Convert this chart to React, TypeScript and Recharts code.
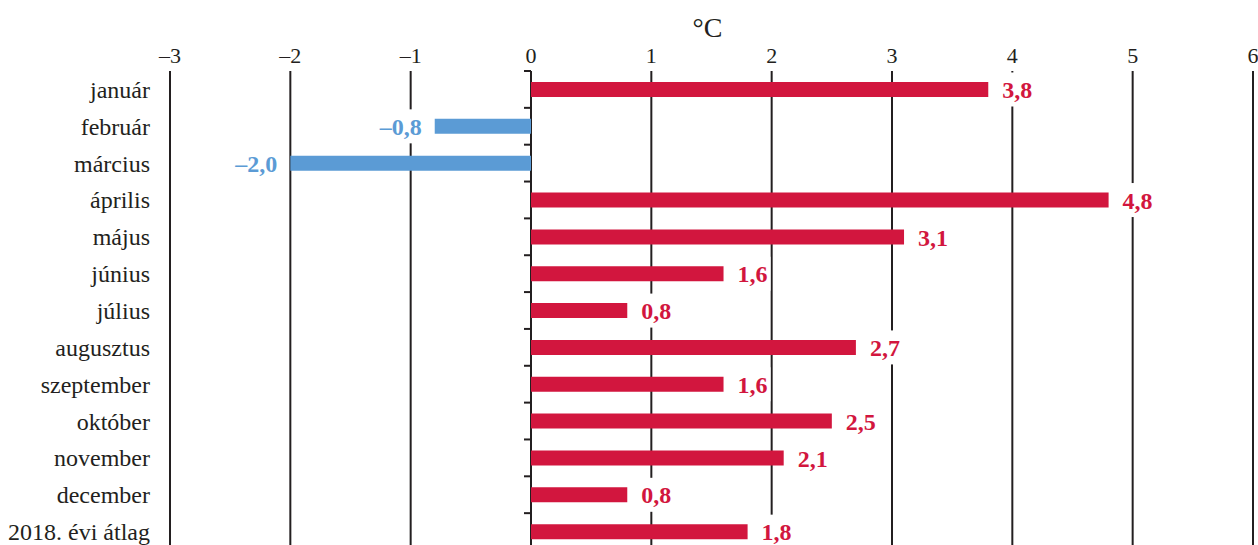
import React from 'react';
import { BarChart, Bar, XAxis, YAxis, CartesianGrid, Cell, LabelList } from 'recharts';

const months = [
  'január',
  'február',
  'március',
  'április',
  'május',
  'június',
  'július',
  'augusztus',
  'szeptember',
  'október',
  'november',
  'december',
  '2018. évi átlag',
];
const anomalies = [3.8, -0.8, -2.0, 4.8, 3.1, 1.6, 0.8, 2.7, 1.6, 2.5, 2.1, 0.8, 1.8];
const xTicks = [-3, -2, -1, 0, 1, 2, 3, 4, 5, 6];

const X_MIN = -3;
const X_MAX = 6;

const data = months.map((month, i) => ({ month, value: anomalies[i] }));

const RED = '#d2163e';
const BLUE = '#5b9bd5';
const INK = '#231f20';
const FONT = '"Liberation Serif", "Times New Roman", serif';
const LABEL_SIZE = 24;

// en dash for minus, comma as decimal mark
const fmt = (v: number) => (v < 0 ? '–' : '') + Math.abs(v).toFixed(1).replace('.', ',');
const fmtTick = (v: number) => (v < 0 ? '–' : '') + Math.abs(v);

const textWidth = (s: string) =>
  s.split('').reduce((w, ch) => w + (ch === ',' ? 0.25 : 0.5) * LABEL_SIZE, 0);

function ValueLabel(props: any) {
  const { x, y, width, height, value } = props;
  const v = Number(value);
  const neg = v < 0;
  const left = Math.min(x, x + width);
  const right = Math.max(x, x + width);
  const cy = y + height / 2;
  const text = fmt(v);
  const tw = textWidth(text);
  const tx = neg ? left - 13 : right + 14;
  const rx = neg ? tx - tw - 3 : tx - 3;
  return (
    <g>
      {/* white box knocks out the grid lines behind the number */}
      <rect x={rx} y={cy - 17} width={tw + 6} height={34} fill="#fff" />
      <text
        x={tx}
        y={cy}
        dy="0.36em"
        textAnchor={neg ? 'end' : 'start'}
        fill={neg ? BLUE : RED}
        fontFamily={FONT}
        fontWeight="bold"
        fontSize={LABEL_SIZE}
      >
        {text}
      </text>
    </g>
  );
}

// short ticks on the left of the zero line, at the category boundaries
function ZeroTick(p: any) {
  const zx = p.x1 + ((p.x2 - p.x1) * (0 - X_MIN)) / (X_MAX - X_MIN);
  return <line key={`zt-${p.index}`} x1={zx - 7} x2={zx} y1={p.y1} y2={p.y2} stroke={INK} strokeWidth={2} />;
}

export default function App() {
  return (
    <div style={{ position: 'absolute', left: 0, top: 0, width: 1258, height: 545, overflow: 'hidden', background: '#fff' }}>
      <BarChart
        width={1258}
        height={550}
        data={data}
        layout="vertical"
        barSize={15}
        margin={{ top: 41, right: 5, bottom: 0, left: 0 }}
      >
        <CartesianGrid
          stroke={INK}
          strokeWidth={2}
          vertical
          horizontal={ZeroTick}
          horizontalCoordinatesGenerator={({ offset }: any) =>
            months
              .map((_, i) => offset.top + (i * offset.height) / months.length)
              .concat(offset.top + offset.height)
          }
        />
        <XAxis
          type="number"
          orientation="top"
          domain={[X_MIN, X_MAX]}
          ticks={xTicks}
          interval={0}
          height={30}
          axisLine={false}
          tickLine={false}
          tickSize={0}
          tickMargin={8}
          tickFormatter={fmtTick}
          tick={{ fontSize: 22, fill: INK, fontFamily: FONT }}
          label={{ value: '°C', position: 'top', offset: 4, fontSize: 28, fill: INK, fontFamily: FONT, dx: -4 }}
        />
        <YAxis
          type="category"
          dataKey="month"
          width={170}
          axisLine={false}
          tickLine={false}
          tickSize={0}
          tickMargin={20}
          interval={0}
          tick={{ fontSize: 24, fill: INK, fontFamily: FONT }}
        />
        <Bar dataKey="value" isAnimationActive={false}>
          {data.map((d, i) => (
            <Cell key={i} fill={d.value < 0 ? BLUE : RED} />
          ))}
          <LabelList dataKey="value" content={ValueLabel} />
        </Bar>
      </BarChart>
    </div>
  );
}
